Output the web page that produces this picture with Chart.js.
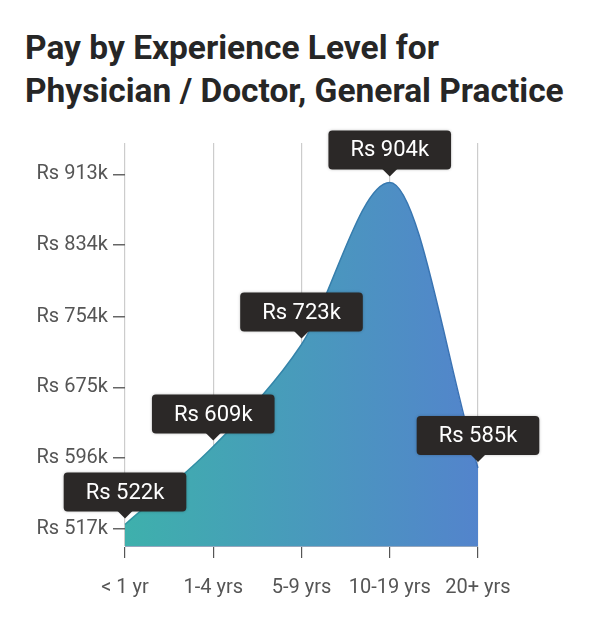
<!DOCTYPE html>
<html>
<head>
  <title>Pay by Experience Level</title>
  <script src="https://cdn.jsdelivr.net/npm/chart.js"></script>
  <style>
    body { margin: 0; background: #fff; }
    h1 {
      margin: 0;
      padding: 26px 0 0 25px;
      height: 86px;
      font: bold 33.5px/43px Roboto, "Noto Sans", sans-serif;
      color: #262626;
      white-space: nowrap;
    }
    #wrap { width: 602px; height: 516px; }
  </style>
</head>
<body>
  <h1>Pay by Experience Level for<br>Physician / Doctor, General Practice</h1>
  <div id="wrap"><canvas id="myChart"></canvas></div>

  <script>
    // datos (miles de rupias)
    const categories = ['< 1 yr', '1-4 yrs', '5-9 yrs', '10-19 yrs', '20+ yrs'];
    const salaries = [522, 609, 723, 904, 585];
    const yTicks = [517, 596, 675, 754, 834, 913];

    const fontFamily = 'Roboto, "Noto Sans", sans-serif';

    // etiquetas oscuras encima de cada punto
    const valueBoxes = {
      id: 'valueBoxes',
      afterDraw(chart) {
        const ctx = chart.ctx;
        const meta = chart.getDatasetMeta(0);
        ctx.save();
        ctx.font = '22px ' + fontFamily;
        ctx.textAlign = 'center';
        ctx.textBaseline = 'middle';
        meta.data.forEach((pt, i) => {
          const text = 'Rs ' + salaries[i] + 'k';
          const w = ctx.measureText(text).width + 44;
          const h = 39;
          const bottom = pt.y - 13;
          const left = pt.x - w / 2;
          ctx.shadowColor = 'rgba(0,0,0,0.25)';
          ctx.shadowBlur = 3;
          ctx.fillStyle = '#2b2827';
          ctx.beginPath();
          ctx.roundRect(left, bottom - h, w, h, 4);
          ctx.fill();
          ctx.shadowBlur = 0;
          ctx.beginPath();
          ctx.moveTo(pt.x - 8, bottom - 1);
          ctx.lineTo(pt.x + 8, bottom - 1);
          ctx.lineTo(pt.x, pt.y - 6);
          ctx.closePath();
          ctx.fill();
          ctx.fillStyle = '#ffffff';
          ctx.fillText(text, pt.x, bottom - h / 2 + 1);
        });
        ctx.restore();
      }
    };

    function areaGradient(context, a, b) {
      const area = context.chart.chartArea;
      if (!area) return a;
      const g = context.chart.ctx.createLinearGradient(area.left, 0, area.right, 0);
      g.addColorStop(0, a);
      g.addColorStop(1, b);
      return g;
    }

    const ctx = document.getElementById('myChart').getContext('2d');
    const myChart = new Chart(ctx, {
      type: 'line',
      data: {
        labels: categories,
        datasets: [{
          data: salaries,
          fill: 'start',
          cubicInterpolationMode: 'monotone',
          pointRadius: 0,
          borderWidth: 1.5,
          borderColor: (c) => areaGradient(c, '#2f96a0', '#3b6fb5'),
          backgroundColor: (c) => areaGradient(c, '#3eb0ac', '#5384cc')
        }]
      },
      options: {
        responsive: true,
        maintainAspectRatio: false,
        animation: false,
        layout: { padding: { left: 25, right: 124, top: 31, bottom: 0 } },
        plugins: {
          legend: { display: false },
          tooltip: { enabled: false }
        },
        scales: {
          x: {
            z: 1,
            afterFit: (scale) => { scale.height = 82; },
            grid: {
              color: 'rgba(0,0,0,0.2)',
              tickColor: '#555',
              tickLength: 12,
              lineWidth: 1.2
            },
            border: { display: true, color: 'rgba(20,60,110,0.45)' },
            ticks: {
              color: '#555',
              padding: 18,
              font: { family: fontFamily, size: 20 }
            }
          },
          y: {
            min: 498,
            max: 948,
            afterFit: (scale) => { scale.width = 100; },
            afterBuildTicks: (scale) => { scale.ticks = yTicks.map(v => ({ value: v })); },
            grid: {
              drawOnChartArea: false,
              tickColor: '#666',
              tickLength: 12,
              lineWidth: 1.5
            },
            border: { display: false },
            ticks: {
              color: '#555',
              padding: 5,
              font: { family: fontFamily, size: 20 },
              callback: (v) => 'Rs ' + v + 'k'
            }
          }
        }
      },
      plugins: [valueBoxes]
    });
  </script>
</body>
</html>
